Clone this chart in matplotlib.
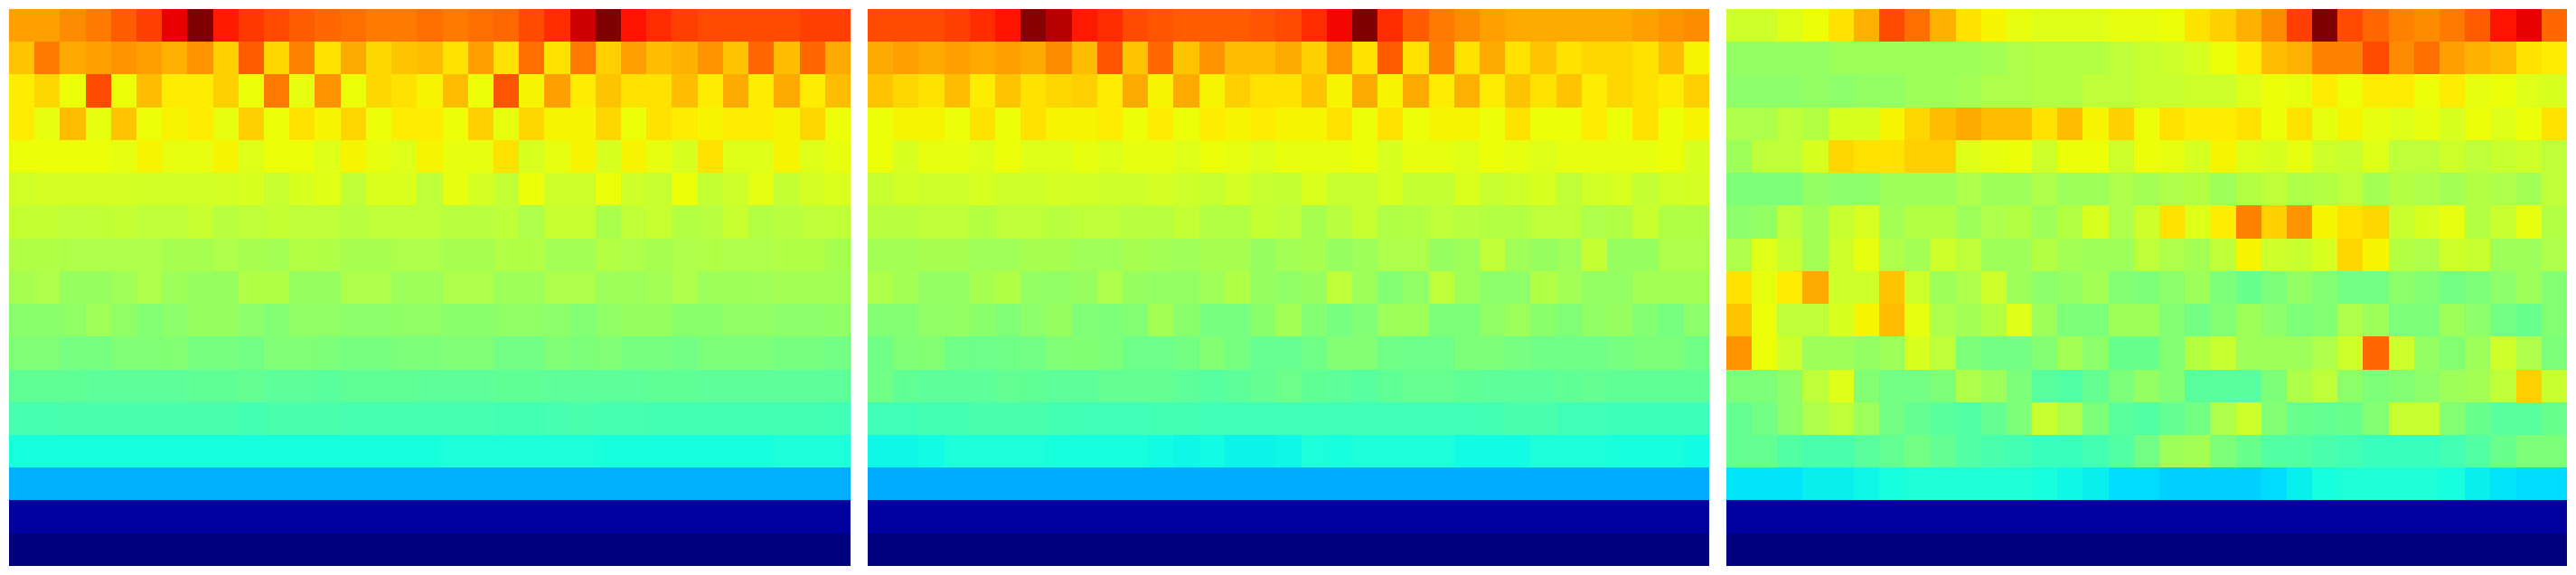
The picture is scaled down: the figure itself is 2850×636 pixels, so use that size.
import numpy as np
import matplotlib
matplotlib.use("Agg")
import matplotlib.pyplot as plt

# Values, on a 0-100 scale, one row per line, top row first.
panel_a = [
 [74,74,76,78,81,84,91,100,88,85,83,81,80,79,78,78,79,78,79,80,83,86,93,100,89,86,84,83,83,83,83,84,84],
 [70,78,73,74,75,74,72,75,69,81,68,77,67,73,68,70,71,67,74,67,79,67,78,69,74,71,72,75,70,80,71,80,73],
 [66,68,64,83,64,71,66,66,69,64,78,63,75,64,68,67,65,71,64,82,65,74,66,70,67,67,71,66,73,66,73,66,71],
 [66,63,71,63,70,64,65,66,63,69,64,67,65,68,64,66,66,64,69,63,68,65,65,68,64,67,66,65,66,66,65,68,64],
 [64,64,64,64,63,65,63,63,65,62,64,64,62,65,63,62,65,63,63,67,61,63,65,61,65,63,61,67,62,62,65,62,63],
 [60.3,60.8,60.8,60.8,60.8,60.3,60.3,60.3,60.8,61.3,59.3,61.3,62.2,58.3,61.7,61.7,57.9,63.2,60.8,58.8,63.7,59.8,59.8,63.7,59.8,59.3,63.7,58.8,59.8,62.7,58.8,60.8,61.7],
 [58.8,58.8,57.9,58.3,58.8,57.9,57.9,59.3,57.4,57.9,58.8,57.9,57.9,57.4,57.9,57.9,57.9,57.4,57.4,57.9,55.9,59.3,59.3,55.7,58.3,59.3,56.9,57.4,59.3,56.9,57.4,57.9,58.3],
 [56.4,56.4,55.9,55.9,55.9,55.9,55.4,55.4,55.9,55.4,54.9,56.9,56.4,55.4,55.4,55.9,55.9,55.4,55.4,56.4,56.4,54.9,54.9,56.9,55.9,55.4,55.9,56.4,55.9,55.9,56.4,56.4,55.4],
 [55.4,55.9,53.5,53.5,54.5,55.9,54,53.5,53.5,56.4,56.4,53.5,53.5,55.9,55.9,54,54,55.9,55.9,54,54,55.9,55.9,54,54,54.9,55.9,54,54,54.5,54.9,54.9,54.9],
 [51.6,51.6,52.5,54.5,52.5,51.0,52.0,53.5,53.5,52.0,51.0,52.5,52.5,52.0,52.0,52.5,52.5,51.6,51.6,52.5,52.5,52.0,51.0,52.5,53.5,53.5,51.6,51.6,52.5,52.5,52.0,52.0,52.5],
 [50.6,50.6,49.6,49.6,50.6,50.6,51.0,49.6,49.6,49.1,50.6,50.6,50.1,49.6,49.6,50.1,50.1,50.6,50.6,49.1,49.1,50.6,50.1,50.6,49.6,49.6,49.1,50.1,50.1,50.1,49.6,49.6,49.1],
 [46.7,46.7,46.7,46.2,46.2,46.2,46.2,46.7,46.7,46.9,46.2,46.2,46.0,46.7,46.7,46.7,46.4,46.4,46.4,46.7,46.7,46.2,46.2,46.2,46.4,46.7,46.7,46.4,46.4,46.4,46.4,46.4,46.4],
 [43.6,43.6,43.8,43.8,43.8,43.8,43.8,43.8,43.8,43.3,43.8,43.8,43.8,43.6,43.6,43.6,43.6,43.6,43.6,43.3,43.3,43.6,43.8,43.6,43.6,43.3,43.3,43.3,43.3,43.3,43.1,43.1,42.8],
 [37.9,37.9,37.9,37.9,37.9,37.9,37.9,37.9,37.9,37.9,37.9,37.9,37.9,37.9,37.9,37.9,37.9,38.4,38.4,38.4,38.4,38.4,38.4,37.9,37.9,37.9,37.9,37.9,37.9,37.9,38.4,38.4,38.4],
 [30,30,30,30,30,30,30,30,30,30,30,30,30,30,30,30,30,30,30,30,30,30,30,30,30,30,30,30,30,30,30,30,30],
 [3,3,3,3,3,3,3,3,3,3,3,3,3,3,3,3,3,3,3,3,3,3,3,3,3,3,3,3,3,3,3,3,3],
 [0,0,0,0,0,0,0,0,0,0,0,0,0,0,0,0,0,0,0,0,0,0,0,0,0,0,0,0,0,0,0,0,0],
]

panel_b = [
 [83,83,83,84,86,89,99,95,88,86,83,82,81,81,81,82,83,86,90,100,86,81,78,76,74,73,73,73,73,73,74,75,76],
 [73,74,73,74,73,74,73,76,71,82,70,80,70,75,71,71,73,69,75,67,81,67,77,67,73,67,70,67,68,68,67,71,65],
 [70,68,67,71,66,70,67,68,69,66,73,65,73,65,69,67,67,70,65,73,65,73,66,72,66,70,67,70,66,68,67,66,69],
 [64,65,65,64,67,64,67,65,65,66,64,66,64,66,65,66,65,65,67,64,67,64,65,65,64,67,64,64,66,64,67,64,65],
 [64,61,63,63,62,64,62,62,63,62,63,63,62,64,63,62,63,63,63,64,61,63,63,62,64,63,62,63,63,63,63,64,61],
 [59.3,60.3,59.8,59.8,61.3,59.8,59.8,60.8,60.3,59.8,59.8,60.8,59.8,59.3,60.8,59.3,58.8,61.7,59.3,59.3,61.3,58.8,58.8,61.7,59.3,59.8,61.3,58.3,60.3,61.3,58.8,60.3,60.8],
 [57.4,57.4,57.9,57.9,56.9,57.9,57.9,57.4,57.9,57.9,57.4,57.4,58.8,56.9,56.9,58.8,57.9,55.4,57.4,59.3,56.4,56.9,57.9,57.4,56.9,56.9,57.9,57.9,55.9,56.4,59.3,56.4,56.4],
 [54.9,54.9,55.4,55.4,54.5,54.5,55.4,55.4,54.5,54.5,55.4,54.9,54.5,55.4,55.4,53.5,54.9,55.4,53.5,54,55.9,55.9,53.5,54,58.3,54.5,53.5,54.5,58.8,53.5,53.5,55.9,55.9],
 [55.9,54.9,53,53,55.4,56.4,53,52.5,53.5,55.9,53.5,53,53,54.5,56.4,53.5,52.5,53.5,57.9,54,51,52.5,57.9,54,52,52,56.4,54.9,53,53,54.9,54.9,54.9],
 [51,51,52.5,53,51.6,50.6,52,53.5,50.6,50.1,51,54.9,51.6,49.6,49.6,51.6,54.9,51,49.6,50.6,54,54,50.1,50.1,52.5,54,51.6,50.6,52.5,53.5,51,49.6,52],
 [48.6,50.6,51,48.6,48.1,48.6,49.1,50.6,51,50.1,48.1,48.1,49.1,51,49.6,47.6,47.6,48.6,51,51,48.6,48.1,48.1,50.1,50.1,49.6,48.6,48.6,48.6,49.6,50.1,50.1,48.6],
 [48.6,46.7,46.2,46.2,46.2,47.2,46.7,46.2,46.2,47.2,47.2,47.2,46.2,45.7,46.2,47.2,48.1,46.7,46.2,45.7,46.7,47.6,47.6,46.7,46.2,46.2,46.2,46.7,47.2,46.7,46.7,46.7,46.7],
 [42.8,42.8,43.3,43.3,43.8,43.8,43.8,43.3,42.8,42.8,42.8,43.3,43.3,42.8,42.8,42.8,42.8,42.8,42.8,42.8,42.8,42.8,42.8,42.8,43.3,43.8,43.8,42.8,42.8,42.3,42.3,42.3,42.3],
 [36.9,36.9,37.4,38.4,38.4,38.4,38.4,37.9,37.9,37.9,37.9,37.4,36.9,37.4,36.4,36.4,36.9,38.4,37.9,38.4,38.4,38.4,38.4,37.4,37.4,37.4,38.4,38.4,38.4,37.9,37.9,37.9,37.4],
 [29.6,29.6,29.6,29.6,29.6,29.6,29.6,29.6,29.6,29.6,29.6,29.6,29.6,29.6,29.6,29.6,29.6,29.6,29.6,29.6,29.6,29.6,29.6,29.6,29.6,29.6,29.6,29.6,29.6,29.6,29.6,29.6,29.6],
 [3,3,3,3,3,3,3,3,3,3,3,3,3,3,3,3,3,3,3,3,3,3,3,3,3,3,3,3,3,3,3,3,3],
 [0,0,0,0,0,0,0,0,0,0,0,0,0,0,0,0,0,0,0,0,0,0,0,0,0,0,0,0,0,0,0,0,0],
]

panel_c = [
 [60,60,62,64,67,72,83,79,72,67,65,63,62,62,62,63,63,64,67,69,72,76,84,100,83,80,77,76,78,81,89,91,80],
 [53,53,53,53,54,54,54,54,54,54,55,56,57,57,57,58,59,60,61,64,66,71,72,77,77,83,76,79,74,72,71,67,66],
 [52,52,52,53,52,53,53,54,54,55,56,56,57,57,58,58,59,59,60,60,62,64,63,66,64,66,66,64,66,63,64,62,61],
 [56,56,58,57,61,61,65,68,71,73,71,71,67,71,65,69,64,67,66,66,67,64,67,63,65,63,62,63,61,64,62,64,67],
 [54,58,58,61,68,67,67,69,69,62,63,64,60,64,64,60,64,63,61,65,62,61,63,60,59,62,58,58,60,58,59,60,58],
 [50,50,50,53,52,52,54,54,54,56,54,54,56,54,54,56,55,56,57,54,57,58,56,57,58,55,57,56,55,57,56,55,58],
 [52,53,58,55,59,61,55,57,57,54,56,57,54,57,61,56,60,67,62,66,77,69,75,65,67,68,59,61,63,57,59,63,57],
 [56,62,59,55,60,63,56,55,60,58,54,54,57,55,54,54,58,56,55,58,65,60,59,61,68,65,57,56,60,59,54,54,56],
 [67,63,66,73,60,60,70,60,54,56,60,54,52,53,55,51,50,52,54,50,48,50,53,51,49,49,52,51,49,50,52,54,51],
 [70,64,58,58,61,65,71,63,56,55,57,62,54,50,50,54,54,51,49,51,54,52,50,51,56,54,50,50,54,52,49,48,51],
 [75,64,60,54,54,53,54,61,58,50,49,49,51,55,52,48,48,51,57,59,54,54,54,56,60,80,60,53,51,54,60,56,50],
 [50,50,52,58,62,51,49,49,50,56,54,50,46,45,47,50,53,51,46,46,46,50,56,58,52,50,51,52,54,55,58,69,59],
 [47,49,52,56,58,54,49,47,46,45,47,50,59,56,50,46,45,47,49,56,60,51,48,47,48,51,59,59,51,48,46,46,48],
 [47,47,45,44,44,46,47,49,47,45,44,43,42,42,43,45,49,54,55,50,48,45,45,44,43,42,42,42,43,45,48,50,50],
 [35,35,35,36,36,37,38,39,39,39,39,39,38,37,36,34,34,33,33,33,33,34,36,38,39,39,39,39,38,36,35,34,34],
 [3,3,3,3,3,3,3,3,3,3,3,3,3,3,3,3,3,3,3,3,3,3,3,3,3,3,3,3,3,3,3,3,3],
 [0,0,0,0,0,0,0,0,0,0,0,0,0,0,0,0,0,0,0,0,0,0,0,0,0,0,0,0,0,0,0,0,0],
]

panels = [panel_a, panel_b, panel_c]

W, H = 2850, 636
fig = plt.figure(figsize=(W / 100, H / 100), dpi=100, facecolor="white")
lefts = [10, 960, 1910]
for left, rows in zip(lefts, panels):
    ax = fig.add_axes([left / W, 10 / H, 930 / W, 616 / H])
    ax.imshow(np.array(rows, dtype=float), cmap="jet", vmin=0, vmax=100,
              aspect="auto", interpolation="nearest")
    ax.axis("off")

fig.savefig("out.png", dpi=100, facecolor="white")
